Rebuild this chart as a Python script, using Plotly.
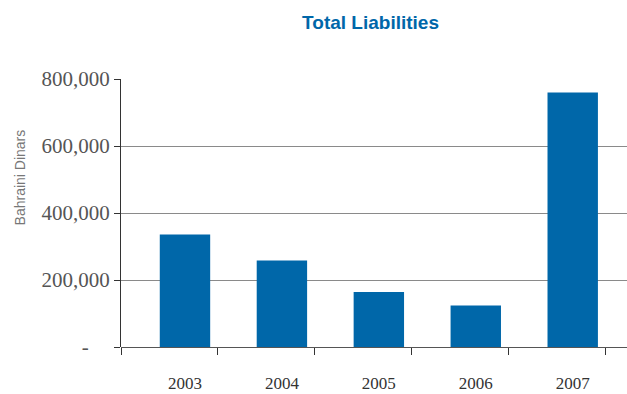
import plotly.graph_objects as go

categories = ["2003", "2004", "2005", "2006", "2007"]
liabilities = [336000, 258000, 164000, 124000, 760000]
y_tick_values = [0, 200000, 400000, 600000, 800000]
y_tick_labels = ["-\u00a0\u00a0\u00a0\u00a0", "200,000", "400,000", "600,000", "800,000"]

BLUE = "#0067a9"

fig = go.Figure()
fig.add_trace(go.Bar(
    x=categories, y=liabilities, marker=dict(color=BLUE, line=dict(width=0)),
    width=0.52, showlegend=False,
))

# boundary tick marks (offset from bar centers as in the reference)
boundary_ticks = [i - 0.66 for i in range(len(categories) + 1)]
fig.add_trace(go.Scatter(x=[None], y=[None], xaxis="x2", showlegend=False))

xr = [-0.66, 4.56]
fig.update_layout(
    width=627, height=394,
    margin=dict(l=121, r=0, t=79, b=47),
    paper_bgcolor="white", plot_bgcolor="white",
    title=dict(text="<b>Total Liabilities</b>", x=0.591, xanchor="center",
               y=1 - 22 / 394, yanchor="middle",
               font=dict(family="Liberation Sans Narrow, Arial Narrow, sans-serif", size=19, color=BLUE)),
    xaxis=dict(type="category", range=xr, showgrid=False, showline=False, zeroline=False,
               ticks="outside", ticklen=21, tickcolor="rgba(0,0,0,0)",
               tickfont=dict(family="Liberation Serif, serif", size=17, color="#333333")),
    xaxis2=dict(overlaying="x", range=xr, showgrid=False, zeroline=False, showline=False,
                tickmode="array", tickvals=boundary_ticks, ticks="outside", ticklen=7,
                tickcolor="#333333", tickwidth=1, showticklabels=False, side="bottom",
                anchor="y"),
    yaxis=dict(range=[0, 800000], tickmode="array", tickvals=y_tick_values, ticktext=y_tick_labels,
               showline=True, linecolor="#333333", linewidth=1,
               ticks="outside", ticklen=6, tickcolor="#333333",
               showgrid=True, gridcolor="#8a8a8a", gridwidth=1,
               zeroline=True, zerolinecolor="#555555", zerolinewidth=1,
               tickfont=dict(family="Liberation Serif, serif", size=21, color="#555555")),
    annotations=[dict(text="Bahraini Dinars", xref="paper", yref="paper", x=-0.2, y=0.632,
                      textangle=-90, showarrow=False, xanchor="center", yanchor="middle",
                      font=dict(family="Liberation Sans Narrow, Arial Narrow, sans-serif", size=14, color="#777777"))],
    bargap=0.48,
)

fig.write_html("out.html")
